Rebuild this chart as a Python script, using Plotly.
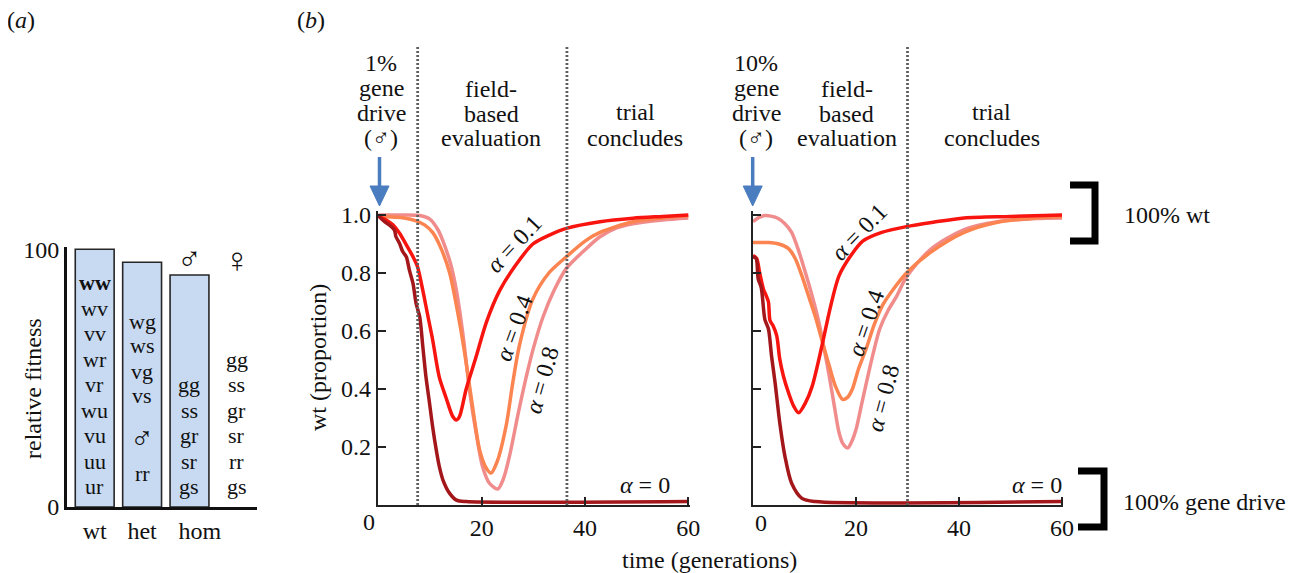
import plotly.graph_objects as go

W, H = 1295, 573
OFF = 8  # default page margin of the html body
FONT = "Liberation Serif, Times New Roman, serif"

# ---------------- data ----------------
# panel (a): relative fitness
fit_categories = ["wt", "het", "hom"]
fit_values = [100, 95, 90]
wt_genotypes = ["<b>ww</b>", "wv", "vv", "wr", "vr", "wu", "vu", "uu", "ur"]
het_genotypes = ["wg", "ws", "vg", "vs", "♂", "rr"]
hom_genotypes = ["gg", "ss", "gr", "sr", "gs"]
fem_genotypes = ["gg", "ss", "gr", "sr", "rr", "gs"]

# panel (b) left: 1% gene drive release
L_t_a0 = [0, 0.2, 1.2, 2.1, 3.1, 3.4, 4.1, 4.7, 5.4, 6.0, 6.7, 7.3, 8.0, 8.6, 9.2, 9.9, 10.5, 11.2, 11.8, 12.5, 13.8, 15.1, 17, 60]
L_w_a0 = [1.0, 0.994, 0.977, 0.966, 0.948, 0.925, 0.902, 0.874, 0.856, 0.81, 0.764, 0.695, 0.649, 0.546, 0.443, 0.351, 0.27, 0.19, 0.132, 0.086, 0.04, 0.017, 0.012, 0.012]
L_t_a1 = [0, 0.2, 1.5, 2.8, 4.1, 5.4, 6.7, 7.6, 8.6, 9.6, 10.5, 11.8, 13.1, 14.4, 15.1, 15.7, 17, 18.9, 20.9, 23.5, 26.7, 29.9, 33, 36.4, 42.9, 49.3, 55, 60]
L_w_a1 = [1.0, 0.994, 0.983, 0.966, 0.937, 0.897, 0.856, 0.82, 0.74, 0.65, 0.57, 0.44, 0.37, 0.305, 0.293, 0.305, 0.40, 0.51, 0.63, 0.74, 0.83, 0.90, 0.93, 0.954, 0.977, 0.989, 0.995, 1.0]
L_t_a4 = [0, 5, 7.3, 9, 10.5, 12, 13.8, 15.5, 17, 18.3, 19.6, 20.8, 21.8, 23, 24.8, 26, 27.3, 29.9, 33, 36.4, 40, 42.9, 49.3, 55, 60]
L_w_a4 = [0.995, 0.99, 0.98, 0.965, 0.94, 0.89, 0.80, 0.65, 0.49, 0.33, 0.19, 0.13, 0.11, 0.15, 0.28, 0.42, 0.55, 0.71, 0.80, 0.856, 0.91, 0.94, 0.977, 0.99, 0.997]
L_t_a8 = [0, 5, 8, 10, 11.5, 12.5, 14, 15.1, 16.5, 17.6, 19, 20.2, 21.5, 23.1, 24.2, 25.4, 27, 28.6, 30, 31.9, 34, 36.4, 40, 42.9, 46, 49.3, 55, 60]
L_w_a8 = [1.0, 1.0, 0.998, 0.985, 0.95, 0.91, 0.83, 0.74, 0.57, 0.40, 0.24, 0.13, 0.075, 0.055, 0.09, 0.17, 0.31, 0.44, 0.54, 0.65, 0.74, 0.816, 0.88, 0.925, 0.955, 0.97, 0.983, 0.99]

# panel (b) right: 10% gene drive release
R_t_a0 = [0, 0.6, 1.0, 1.6, 2.3, 3.0, 3.6, 4.3, 5.2, 6.2, 7.5, 9.5, 12.1, 60]
R_w_a0 = [0.855, 0.85, 0.78, 0.75, 0.64, 0.607, 0.514, 0.42, 0.283, 0.168, 0.075, 0.023, 0.012, 0.012]
R_t_a1 = [0, 0.7, 1.3, 2.0, 2.6, 3.0, 3.3, 3.9, 4.6, 5.2, 5.9, 6.9, 7.9, 8.85, 10.2, 11.5, 13.4, 15, 16.7, 19, 21.3, 25, 29.8, 35, 41, 50, 60]
R_w_a1 = [0.86, 0.85, 0.80, 0.746, 0.72, 0.70, 0.636, 0.618, 0.584, 0.503, 0.445, 0.387, 0.341, 0.318, 0.353, 0.41, 0.55, 0.68, 0.79, 0.86, 0.91, 0.94, 0.96, 0.975, 0.99, 0.995, 1.0]
R_t_a4 = [0, 3, 5, 6.9, 8.2, 9.5, 10.8, 12.1, 13.5, 14.8, 16, 17.4, 18.3, 19.3, 20.5, 22, 23.5, 25.2, 27.5, 29.8, 34.4, 41, 47.5, 55, 60]
R_w_a4 = [0.905, 0.905, 0.9, 0.884, 0.85, 0.79, 0.72, 0.65, 0.56, 0.48, 0.41, 0.364, 0.37, 0.40, 0.47, 0.54, 0.62, 0.69, 0.75, 0.80, 0.87, 0.94, 0.975, 0.99, 0.994]
R_t_a8 = [0, 1, 2.3, 3.5, 4.9, 6.2, 7.5, 8.8, 10.2, 11.5, 12.8, 13.8, 14.8, 15.8, 16.7, 17.5, 18.4, 19.2, 20, 21, 22, 23.3, 24.6, 26.2, 27.9, 29.8, 34.4, 41, 47.5, 55, 60]
R_w_a8 = [0.977, 0.99, 0.998, 0.996, 0.988, 0.97, 0.94, 0.88, 0.80, 0.72, 0.63, 0.54, 0.445, 0.34, 0.25, 0.21, 0.197, 0.22, 0.26, 0.34, 0.42, 0.52, 0.607, 0.67, 0.72, 0.786, 0.88, 0.95, 0.977, 0.988, 0.99]

alpha_labels = ["0", "0.1", "0.4", "0.8"]
alpha_colors = ["#a3161a", "#f8140f", "#fb8450", "#f08c8c"]

left_phase_marks = [7.6, 36.5]
right_phase_marks = [30]
y_ticks = [0.2, 0.4, 0.6, 0.8, 1.0]
x_ticks_left = [20, 40, 60]
x_ticks_right = [0, 20, 40, 60]


def px(x):
    return (x - OFF) / W


def py(y):
    return 1 - (y - OFF) / H


fig = go.Figure()

# ---------- panel (a) bars ----------
fig.add_trace(go.Bar(
    x=[0, 1, 2], y=fit_values, width=0.82,
    marker=dict(color="#c7daf1", line=dict(color="#262626", width=1.6)),
    xaxis="x", yaxis="y", showlegend=False, hoverinfo="skip"))

# ---------- panel (b) curves ----------
left_series = [(L_t_a0, L_w_a0), (L_t_a1, L_w_a1), (L_t_a4, L_w_a4), (L_t_a8, L_w_a8)]
right_series = [(R_t_a0, R_w_a0), (R_t_a1, R_w_a1), (R_t_a4, R_w_a4), (R_t_a8, R_w_a8)]
order = [3, 2, 1, 0]
for i in order:
    t, w = left_series[i]
    fig.add_trace(go.Scatter(x=t, y=w, mode="lines", xaxis="x2", yaxis="y2",
                             line=dict(color=alpha_colors[i], width=3.5, shape="spline", smoothing=0.8),
                             showlegend=False, hoverinfo="skip"))
for i in order:
    t, w = right_series[i]
    fig.add_trace(go.Scatter(x=t, y=w, mode="lines", xaxis="x3", yaxis="y3",
                             line=dict(color=alpha_colors[i], width=3.5, shape="spline", smoothing=0.8),
                             showlegend=False, hoverinfo="skip"))

axis_common = dict(showgrid=False, zeroline=False, showline=True, linecolor="#222",
                   automargin=False,
                   tickfont=dict(family=FONT, size=24, color="#111"))

# pixel geometry
L_x0px, L_ppu = 378.4, 5.165
R_x0px, R_ppu = 753.0, 5.15
Y0px, Yppu = 505.0, 290.0
L_rng = [-0.1, 60.3]
R_rng = [0.0, 60.2]
Y_rng = [0.0, 1.015]

A_x0px, A_ppu = 94.7, 47.4
A_rng = [-0.584, 3.424]
A_y0px, A_yppu = 507.0, 2.577
A_yrng = [0, 101]

fig.update_layout(
    width=W, height=H, margin=dict(l=0, r=0, t=0, b=0, pad=0, autoexpand=False),
    autosize=False,
    paper_bgcolor="white", plot_bgcolor="rgba(0,0,0,0)",
    xaxis=dict(axis_common, domain=[px(A_x0px + A_rng[0] * A_ppu), px(A_x0px + A_rng[1] * A_ppu)],
               range=A_rng, tickvals=[0, 1, 2.22], ticktext=fit_categories, ticks="",
               linewidth=3, linecolor="#111", anchor="y"),
    yaxis=dict(axis_common, domain=[py(A_y0px), py(A_y0px - A_yrng[1] * A_yppu)],
               range=A_yrng, tickvals=[0, 100], ticks="", linewidth=3, linecolor="#111",
               anchor="x"),
    xaxis2=dict(axis_common, domain=[px(L_x0px + L_rng[0] * L_ppu), px(L_x0px + L_rng[1] * L_ppu)],
                range=L_rng, tickvals=x_ticks_left, ticks="inside", ticklen=8, tickwidth=2,
                tickcolor="#222", linewidth=2, anchor="y2"),
    yaxis2=dict(axis_common, domain=[py(Y0px), py(Y0px - Y_rng[1] * Yppu)],
                range=Y_rng, tickvals=y_ticks, tickformat=".1f", ticks="inside", ticklen=8,
                tickwidth=2, tickcolor="#222", linewidth=2, anchor="x2"),
    xaxis3=dict(axis_common, domain=[px(R_x0px + R_rng[0] * R_ppu), px(R_x0px + R_rng[1] * R_ppu)],
                range=R_rng, tickvals=x_ticks_right, ticktext=["", "20", "40", "60"],
                ticks="inside", ticklen=8, tickwidth=2,
                tickcolor="#222", linewidth=2, anchor="y3"),
    yaxis3=dict(axis_common, domain=[py(Y0px), py(Y0px - Y_rng[1] * Yppu)],
                range=Y_rng, tickvals=y_ticks, showticklabels=False, ticks="inside", ticklen=8,
                tickwidth=2, tickcolor="#222", linewidth=2, anchor="x3"),
)

shapes = []
# phase marks (dotted)
for v in left_phase_marks:
    shapes.append(dict(type="line", xref="x2", yref="paper", x0=v, x1=v, y0=py(505), y1=py(45),
                       line=dict(color="#5f5f5f", width=2.8, dash="2px,2px"), layer="above"))
for v in right_phase_marks:
    shapes.append(dict(type="line", xref="x3", yref="paper", x0=v, x1=v, y0=py(505), y1=py(45),
                       line=dict(color="#5f5f5f", width=2.8, dash="2px,2px"), layer="above"))

# release arrows (blue)
BLUE = "#4a7dbf"
for ax_px in [379.5, 752.7]:
    shapes.append(dict(type="line", xref="paper", yref="paper", x0=px(ax_px), x1=px(ax_px),
                       y0=py(157), y1=py(190), line=dict(color=BLUE, width=3.5)))
    path = "M {},{} L {},{} L {},{} Z".format(px(ax_px - 9.5), py(186), px(ax_px + 9.5), py(186),
                                              px(ax_px), py(206))
    shapes.append(dict(type="path", xref="paper", yref="paper", path=path,
                       fillcolor=BLUE, line=dict(color=BLUE, width=1)))

# brackets on right
for (xl, xr, yt, yb) in [(1070, 1095, 185, 241), (1078, 1104, 471, 527)]:
    path = "M {},{} L {},{} L {},{} L {},{}".format(px(xl), py(yt), px(xr), py(yt),
                                                    px(xr), py(yb), px(xl), py(yb))
    shapes.append(dict(type="path", xref="paper", yref="paper", path=path,
                       line=dict(color="#000", width=7)))

fig.update_layout(shapes=shapes)

ann = []


def T(text, x, y, size=24, angle=0, xanchor="center", xref="paper"):
    ann.append(dict(text=text, x=x if xref != "paper" else px(x), y=py(y), xref=xref, yref="paper",
                    showarrow=False, xanchor=xanchor, yanchor="middle", textangle=angle,
                    font=dict(family=FONT, size=size, color="#111")))


T("(<i>a</i>)", 21, 20)
T("(<i>b</i>)", 311, 20)
T("relative fitness", 33, 389, angle=-90)
T("wt (proportion)", 318, 358, angle=-90)
T("time (generations)", 709, 560)

# genotype labels
wt_y = [282.5, 308, 333.5, 359, 384.5, 410, 435.5, 461, 486.5]
for g, y in zip(wt_genotypes, wt_y):
    T(g, 0, y, size=22, xref="x")
het_y = [321.7, 345, 371.7, 395, 438, 473]
het_sizes = [22, 22, 22, 22, 32, 22]
for g, y, s in zip(het_genotypes, het_y, het_sizes):
    T(g, 1, y, size=s, xref="x")
hom_y = [384.5, 410, 435.5, 461, 486.5]
for g, y in zip(hom_genotypes, hom_y):
    T(g, 2, y, size=22, xref="x")
fem_y = [359, 384.5, 410, 435.5, 461, 486.5]
for g, y in zip(fem_genotypes, fem_y):
    T(g, 3, y, size=22, xref="x")
T("♂", 2, 259, size=33, xref="x")
T("♀", 3, 260, size=35, xref="x")

# top annotations
for cx, lines, ys in [
    (381, ["1%", "gene", "drive", "(♂)"], [63, 88, 113, 138]),
    (491, ["field-", "based", "evaluation"], [89, 114, 138]),
    (635, ["trial", "concludes"], [112, 138]),
    (756, ["10%", "gene", "drive", "(♂)"], [63, 88, 113, 138]),
    (847, ["field-", "based", "evaluation"], [89, 114, 138]),
    (992, ["trial", "concludes"], [112, 138]),
]:
    for s, y in zip(lines, ys):
        T(s, cx, y)

# origin labels
T("0", 369, 522)
T("0", 761, 523)

# curve labels
a = "<i>α</i> = "
T(a + "0.1", 514, 244, angle=-47)
T(a + "0.4", 514, 328, angle=-70)
T(a + "0.8", 542, 380, angle=-74)
T(a + "0", 645, 485)
T(a + "0.1", 859, 232, angle=-46)
T(a + "0.4", 866, 323, angle=-71)
T(a + "0.8", 883, 398, angle=-75)
T(a + "0", 1037, 485)

# right side labels
T("100% wt", 1122, 215, xanchor="left")
T("100% gene drive", 1121, 502, xanchor="left")

fig.update_layout(annotations=ann)
fig.write_html("out.html")
